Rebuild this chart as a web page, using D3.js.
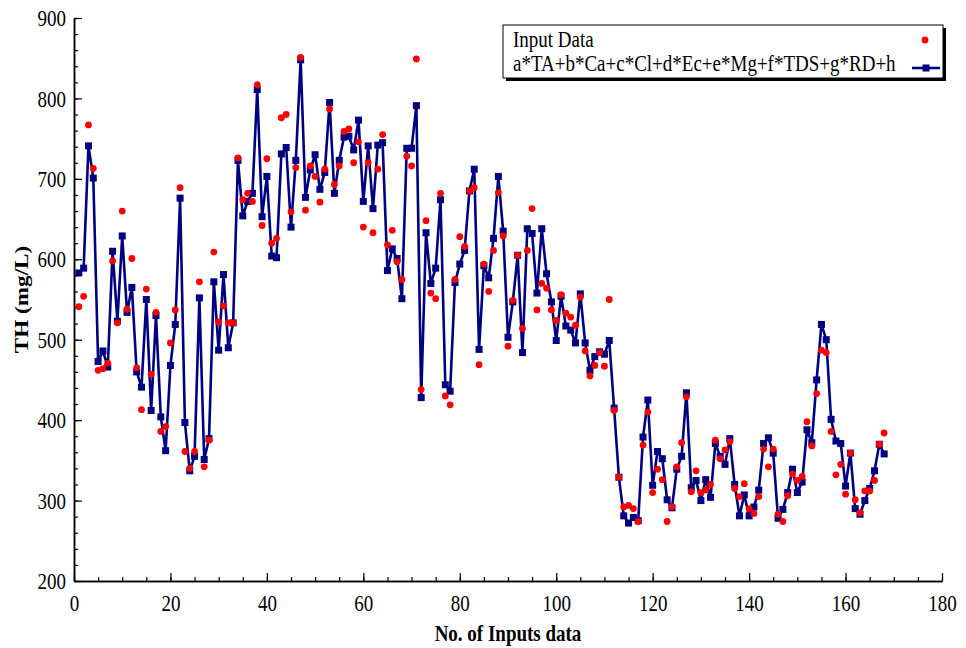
<!DOCTYPE html>
<html>
<head>
<meta charset="utf-8">
<script src="https://cdn.jsdelivr.net/npm/d3@7"></script>
<style>
  body { margin: 0; background: #fff; }
  svg { display: block; }
</style>
</head>
<body>
<svg id="chart" width="966" height="648"></svg>
<script>
/*
  TH observed vs. regression model, by input sample number.
*/
var inputData = [541, 554, 767, 713, 462, 464, 471, 598, 521, 660,
  538, 601, 465, 413, 563, 457, 534, 386, 392, 496,
  537, 689, 361, 340, 361, 572, 342, 375, 609, 522,
  542, 521, 521, 726, 674, 682, 672, 817, 642, 725,
  620, 626, 776, 780, 659, 714, 851, 661, 716, 703,
  671, 712, 787, 693, 716, 759, 762, 720, 746, 640,
  720, 633, 712, 755, 618, 636, 597, 575, 728, 716,
  849, 438, 648, 558, 551, 682, 430, 419, 575, 628,
  616, 685, 689, 469, 594, 560, 611, 683, 629, 492,
  549, 605, 514, 611, 663, 537, 570, 564, 537, 524,
  556, 533, 528, 518, 553, 486, 455, 468, 484, 467,
  550, 412, 329, 292, 294, 290, 274, 369, 410, 310,
  339, 326, 274, 292, 342, 372, 429, 311, 337, 310,
  313, 320, 375, 352, 363, 373, 315, 305, 321, 290,
  284, 305, 364, 342, 364, 283, 274, 306, 333, 325,
  330, 398, 368, 433, 487, 484, 386, 332, 345, 308,
  359, 301, 285, 312, 312, 325, 370, 384];

var modelData = [583, 589, 741, 701, 473, 486, 466, 610, 523, 629,
  534, 565, 460, 441, 550, 412, 530, 404, 362, 468,
  519, 676, 397, 337, 355, 552, 351, 377, 572, 487,
  581, 490, 521, 723, 654, 672, 682, 811, 653, 703,
  604, 602, 731, 739, 640, 723, 848, 677, 711, 730,
  687, 708, 795, 682, 723, 752, 753, 736, 773, 672,
  741, 663, 742, 745, 586, 613, 601, 551, 738, 738,
  791, 428, 633, 570, 589, 674, 444, 436, 571, 594,
  611, 685, 712, 488, 592, 577, 626, 703, 635, 503,
  547, 605, 484, 638, 632, 558, 638, 582, 547, 499,
  554, 517, 512, 496, 557, 496, 462, 479, 485, 482,
  499, 415, 329, 281, 272, 279, 275, 379, 425, 319,
  361, 352, 301, 291, 339, 355, 434, 316, 325, 300,
  326, 304, 371, 355, 345, 377, 320, 281, 307, 281,
  292, 313, 371, 378, 359, 278, 289, 310, 339, 310,
  323, 388, 372, 450, 519, 500, 401, 374, 371, 318,
  359, 290, 283, 300, 315, 337, 370, 358];

var xTicks = [0, 20, 40, 60, 80, 100, 120, 140, 160, 180];
var yTicks = [200, 300, 400, 500, 600, 700, 800, 900];
var seriesNames = ["Input Data", "a*TA+b*Ca+c*Cl+d*Ec+e*Mg+f*TDS+g*RD+h"];

var svg = d3.select("#chart"),
    serif = "'Liberation Serif', 'Times New Roman', serif",
    stretch = 1.22,
    red = "#ff0000",
    navy = "#000080";

var x = d3.scaleLinear().domain([0, 180]).range([74, 942]),
    y = d3.scaleLinear().domain([200, 900]).range([581, 18]);

var points = inputData.map(function(d, i) { return {n: i + 1, obs: d, fit: modelData[i]}; });

// minor ticks first, then the labelled ones on top
svg.append("g")
  .attr("transform", "translate(0," + y(200) + ")")
  .call(d3.axisBottom(x).tickValues(d3.range(0, 181, 5)).tickSizeInner(-4).tickSizeOuter(0).tickFormat(""));

var xAxis = svg.append("g")
  .attr("transform", "translate(0," + y(200) + ")")
  .call(d3.axisBottom(x).tickValues(xTicks).tickSizeInner(-8).tickSizeOuter(0).tickPadding(12));

svg.append("g")
  .attr("transform", "translate(" + x(0) + ",0)")
  .call(d3.axisLeft(y).tickValues(d3.range(200, 901, 20)).tickSizeInner(-4).tickSizeOuter(0).tickFormat(""));

var yAxis = svg.append("g")
  .attr("transform", "translate(" + x(0) + ",0)")
  .call(d3.axisLeft(y).tickValues(yTicks).tickSizeInner(-8).tickSizeOuter(0).tickPadding(8));

svg.selectAll(".domain").attr("stroke", "#000").attr("stroke-width", 1.5);
svg.selectAll(".tick line").attr("stroke", "#000").attr("stroke-width", 1.2);

xAxis.selectAll(".tick text")
  .attr("font-family", serif)
  .attr("font-size", 19)
  .attr("fill", "#000")
  .attr("dy", null)
  .attr("y", null)
  .attr("dominant-baseline", "hanging")
  .attr("transform", "translate(0,13) scale(1," + stretch + ")");

yAxis.selectAll(".tick text")
  .attr("font-family", serif)
  .attr("font-size", 19)
  .attr("fill", "#000")
  .attr("dy", null)
  .attr("x", null)
  .attr("dominant-baseline", "central")
  .attr("transform", "translate(-8,0) scale(1," + stretch + ")");

svg.append("text")
  .attr("font-family", serif)
  .attr("font-weight", "bold")
  .attr("font-size", 19)
  .attr("text-anchor", "middle")
  .attr("transform", "translate(" + ((x(0) + x(180)) / 2) + ",641) scale(1," + stretch + ")")
  .text("No. of Inputs data");

svg.append("text")
  .attr("font-family", serif)
  .attr("font-weight", "bold")
  .attr("font-size", 19)
  .attr("text-anchor", "middle")
  .attr("transform", "translate(28," + ((y(200) + y(900)) / 2) + ") scale(1," + stretch + ") rotate(-90)")
  .text("TH (mg/L)");

// model line and squares
var line = d3.line()
  .x(function(d) { return x(d.n); })
  .y(function(d) { return y(d.fit); });

svg.append("path")
  .datum(points)
  .attr("fill", "none")
  .attr("stroke", navy)
  .attr("stroke-width", 2.6)
  .attr("stroke-linejoin", "round")
  .attr("d", line);

svg.append("g").selectAll("rect")
  .data(points)
  .enter().append("rect")
  .attr("x", function(d) { return x(d.n) - 3.5; })
  .attr("y", function(d) { return y(d.fit) - 3.5; })
  .attr("width", 7)
  .attr("height", 7)
  .attr("fill", navy);

// observed values
svg.append("g").selectAll("circle")
  .data(points)
  .enter().append("circle")
  .attr("cx", function(d) { return x(d.n); })
  .attr("cy", function(d) { return y(d.obs); })
  .attr("r", 3.4)
  .attr("fill", red);

// legend box with drop shadow
var lg = svg.append("g").attr("transform", "translate(503,25)");

lg.append("rect")
  .attr("x", 3).attr("y", 3)
  .attr("width", 440).attr("height", 53)
  .attr("fill", "#000");

lg.append("rect")
  .attr("width", 440).attr("height", 53)
  .attr("fill", "#fff")
  .attr("stroke", "#000")
  .attr("stroke-width", 1);

lg.selectAll("text.lab")
  .data(seriesNames)
  .enter().append("text")
  .attr("class", "lab")
  .attr("font-family", serif)
  .attr("font-size", 19)
  .attr("fill", "#000")
  .attr("transform", function(d, i) { return "translate(10," + (22 + i * 24) + ") scale(1," + stretch + ")"; })
  .text(function(d) { return d; });

lg.append("circle")
  .attr("cx", 422).attr("cy", 15)
  .attr("r", 3.4)
  .attr("fill", red);

lg.append("line")
  .attr("x1", 409).attr("x2", 437)
  .attr("y1", 43).attr("y2", 43)
  .attr("stroke", navy)
  .attr("stroke-width", 2.6);

lg.append("rect")
  .attr("x", 419.5).attr("y", 39.5)
  .attr("width", 7).attr("height", 7)
  .attr("fill", navy);
</script>
</body>
</html>
